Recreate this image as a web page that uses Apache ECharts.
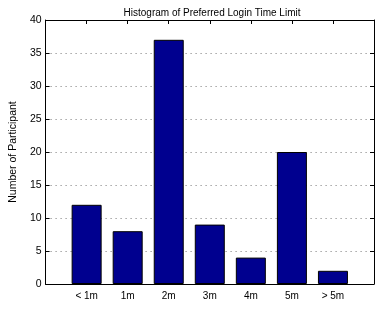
<!DOCTYPE html>
<html>
<head>
    <meta charset="UTF-8">
    <title>Histogram</title>
    <script src="https://cdn.jsdelivr.net/npm/echarts@6/dist/echarts.min.js"></script>
    <style>
        html, body { margin: 0; padding: 0; background: #fff; }
        #chart { width: 377px; height: 318px; }
    </style>
</head>
<body>
<div id="chart"></div>
<script>
    // data
    const categories = ['< 1m', '1m', '2m', '3m', '4m', '5m', '> 5m'];
    const participants = [12, 8, 37, 9, 4, 20, 2];
    const yTicks = [0, 5, 10, 15, 20, 25, 30, 35, 40];

    const font = 'Liberation Sans, Arial, sans-serif';
    let chart = echarts.init(document.getElementById('chart'));

    // bars sit at x = 1..7 on a 0..8 axis, like matlab's hist
    let barData = participants.map((v, i) => [i + 1, v]);

    // frame axis (top / right) - line and inward ticks only
    function frameLine() {
        return { show: true, onZero: false, lineStyle: { color: '#000', width: 1 } };
    }
    let tick = { show: true, inside: true, length: 4, lineStyle: { color: '#000' } };

    let option = {
        animation: false,
        title: {
            text: 'Histogram of Preferred Login Time Limit',
            left: 207,
            textAlign: 'center',
            top: 3,
            textStyle: { fontSize: 10, fontWeight: 'normal', color: '#000', fontFamily: font }
        },
        grid: { left: 39, right: 3, top: 20, bottom: 34 },
        xAxis: [
            {
                type: 'value', min: 0, max: 8, interval: 1,
                axisLine: frameLine(),
                axisTick: tick,
                axisLabel: {
                    color: '#000', fontSize: 10, fontFamily: font, margin: 7,
                    formatter: v => categories[v - 1] || ''
                },
                splitLine: { show: false }
            },
            {
                type: 'value', min: 0, max: 8, interval: 1, position: 'top',
                axisLine: frameLine(),
                axisTick: tick,
                axisLabel: { show: false },
                splitLine: { show: false }
            }
        ],
        yAxis: [
            {
                type: 'value', min: yTicks[0], max: yTicks[yTicks.length - 1], interval: 5,
                name: 'Number of Participant',
                nameLocation: 'middle',
                nameGap: 25,
                nameTextStyle: { color: '#000', fontSize: 10.5, fontFamily: font },
                axisLine: frameLine(),
                axisTick: tick,
                axisLabel: { color: '#000', fontSize: 10.5, fontFamily: font, margin: 4 },
                splitLine: { show: true, lineStyle: { color: '#777', type: [1, 4], width: 1 } }
            },
            {
                type: 'value', min: 0, max: 40, interval: 5, position: 'right',
                axisLine: frameLine(),
                axisTick: tick,
                axisLabel: { show: false },
                splitLine: { show: false }
            }
        ],
        series: [
            {
                type: 'bar',
                data: barData,
                barWidth: 30,
                itemStyle: { color: '#00008F', borderColor: '#000', borderWidth: 1 }
            }
        ]
    };

    chart.setOption(option);
</script>
</body>
</html>
